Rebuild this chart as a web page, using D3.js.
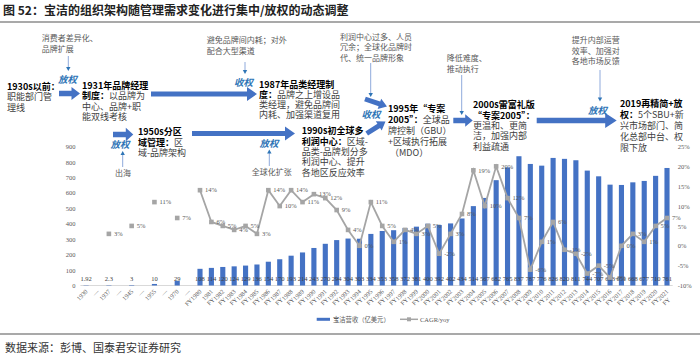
<!DOCTYPE html>
<html><head><meta charset="utf-8">
<script src="https://cdn.jsdelivr.net/npm/d3@7"></script>
<style>body{margin:0;background:#fff}svg{display:block}</style>
</head><body>
<svg id="c" width="700" height="355"></svg>
<script>
// ---------- data ----------
const categories = ["1930","—","1937","—","1945","—","1955","—","1970","—","FY1980",
 "FY 1981","FY 1982","FY 1983","FY 1984","FY 1985","FY 1986","FY 1987","FY 1988","FY 1989","FY 1990",
 "FY 1991","FY 1992","FY 1993","FY 1994","FY 1995","FY 1996","FY 1997","FY 1998","FY 1999","FY 2000",
 "FY 2001","FY 2002","FY 2003","FY 2004","FY 2005","FY 2006","FY 2007","FY 2008","FY 2009","FY 2010",
 "FY 2011","FY 2012","FY 2013","FY 2014","FY 2015","FY 2016","FY 2017","FY 2018","FY 2019","FY 2020","FY 2021"];
const revenue = [1.92,null,2.3,null,3,null,10,null,29,null,
 108,114,120,124,129,136,154,170,193,214,243,270,294,304,303,334,353,358,372,381,400,392,402,434,
 514,567,682,765,837,787,776,826,820,811,744,707,653,651,668,677,710,761];
const growth = [null,null,3,null,5,null,11,null,7,null,
 14,6,5,4,5,3,14,10,14,11,13,12,9,4,0,11,5,1,4,3,5,-2,3,8,
 19,10,20,12,7,-6,1,6,-1,-2,-7,-5,-8,0,3,1,5,7];
const leftTicks = [0,100,200,300,400,500,600,700,800,900];
const rightTicks = [-10,-5,0,5,10,15,20,25];
const seriesNames = ["宝洁营收（亿美元）","CAGR/yoy"];

// ---------- styles ----------
const BLUE = "#4472C4", GRAY = "#A5A5A5", LBLUE = "#2E75B6", THIN = "#8FAADC";
const CJK = "'Noto Sans CJK SC', sans-serif";
const NUM = "'Liberation Serif', serif";

const svg = d3.select("#c");
svg.append("rect").attr("width",700).attr("height",355).attr("fill","#fff");

// title
svg.append("text").attr("x",3).attr("y",14.5).attr("font-family",CJK).attr("font-weight","bold")
  .attr("font-size",12).attr("fill","#222").text("图 52：宝洁的组织架构随管理需求变化进行集中/放权的动态调整");
svg.append("line").attr("x1",0).attr("x2",700).attr("y1",22).attr("y2",22).attr("stroke","#8c8c8c").attr("stroke-width",1.5);
svg.append("line").attr("x1",0).attr("x2",700).attr("y1",334).attr("y2",334).attr("stroke","#8c8c8c").attr("stroke-width",1.5);
svg.append("text").attr("x",5).attr("y",352).attr("font-family",CJK).attr("font-size",11)
  .attr("fill","#333").text("数据来源：彭博、国泰君安证券研究");

// ---------- scales ----------
const x = d3.scaleBand().domain(d3.range(categories.length)).range([80.4,672.7])
  .paddingInner(0.55).paddingOuter(0.275);
const yL = d3.scaleLinear().domain([0,900]).range([285.5,146.5]);
const yR = d3.scaleLinear().domain([-10,25]).range([285.5,146.5]);
const cx = i => x(i) + x.bandwidth()/2;

// axes
const axL = svg.append("g").attr("transform","translate(80.4,0)")
  .call(d3.axisLeft(yL).tickValues(leftTicks).tickSize(0).tickPadding(5));
const axR = svg.append("g").attr("transform","translate(672.7,0)")
  .call(d3.axisRight(yR).tickValues(rightTicks).tickSize(0).tickPadding(5).tickFormat(d=>d+"%"));
[axL,axR].forEach(a=>{a.select(".domain").remove();
  a.selectAll("text").attr("font-family",NUM).attr("font-size",6.5).attr("fill","#595959");});
svg.append("line").attr("x1",80.4).attr("x2",672.7).attr("y1",yL(0)).attr("y2",yL(0))
  .attr("stroke","#D9D9D9").attr("stroke-width",1);

// bars
const bd = revenue.map((v,i)=>({v,i})).filter(d=>d.v!=null);
svg.append("g").selectAll("rect").data(bd).join("rect")
  .attr("x",d=>x(d.i)).attr("width",x.bandwidth())
  .attr("y",d=>yL(d.v)).attr("height",d=>yL(0)-yL(d.v)).attr("fill",BLUE);
svg.append("g").selectAll("text").data(bd).join("text")
  .attr("x",d=>cx(d.i)).attr("y",280.5).attr("text-anchor","middle")
  .attr("font-family",NUM).attr("font-size",6.5).attr("fill","#404040").text(d=>d.v);

// line
const line = d3.line().defined(d=>d!=null).x((d,i)=>cx(i)).y(d=>yR(d));
svg.append("path").datum(growth).attr("d",line).attr("fill","none")
  .attr("stroke",GRAY).attr("stroke-width",1.8);
const gd = growth.map((v,i)=>({v,i})).filter(d=>d.v!=null);
svg.append("g").selectAll("rect").data(gd).join("rect")
  .attr("x",d=>cx(d.i)-2.3).attr("y",d=>yR(d.v)-2.3).attr("width",4.6).attr("height",4.6).attr("fill",GRAY);
svg.append("g").selectAll("text").data(gd).join("text")
  .attr("x",d=>cx(d.i)+5).attr("y",d=>yR(d.v)+2.3)
  .attr("font-family",NUM).attr("font-size",6.5).attr("fill","#595959").text(d=>d.v+"%");

// x labels
const xl = svg.append("g");
categories.forEach((c,i)=>{
  const g = xl.append("g").attr("transform",`translate(${cx(i)+2},292) rotate(-45)`);
  const t = g.append("text").attr("font-family",NUM).attr("font-size",6.3).attr("fill","#595959");
  if (c.startsWith("FY ")) {
    const s1 = t.append("tspan").attr("x",0).attr("y",0).attr("text-anchor","end").text(c.slice(3));
    const w = s1.node().getComputedTextLength();
    t.append("tspan").attr("x",-w).attr("y",7).attr("text-anchor","start").text("FY");
  } else {
    t.attr("text-anchor","end").text(c);
  }
});

// legend
const lg = svg.append("g");
lg.append("line").attr("x1",316.7).attr("x2",330).attr("y1",319.3).attr("y2",319.3).attr("stroke",BLUE).attr("stroke-width",3);
lg.append("text").attr("x",333).attr("y",321.5).attr("font-family",CJK).attr("font-size",6.3).attr("fill","#595959").text(seriesNames[0]);
lg.append("line").attr("x1",400).attr("x2",418).attr("y1",319.3).attr("y2",319.3).attr("stroke",GRAY).attr("stroke-width",1.5);
lg.append("rect").attr("x",407).attr("y",317.3).attr("width",4).attr("height",4).attr("fill",GRAY);
lg.append("text").attr("x",420).attr("y",321.5).attr("font-family",NUM).attr("font-size",6.5).attr("fill","#595959").text(seriesNames[1]);

// ---------- annotation diagram ----------
const ann = svg.append("g");
function block(xp, yp, lh, lines, fs, regColor) {
  const t = ann.append("text").attr("font-family",CJK).attr("font-size",fs);
  lines.forEach((ln,k)=>{
    const row = t.append("tspan").attr("x",xp).attr("y",yp+k*lh+fs*0.36);
    const segs = typeof ln === "string" ? [[ln,false]] : ln;
    segs.forEach(([s,b])=>row.append("tspan").text(s).attr("font-weight",b?"bold":"normal")
      .attr("fill",b?"#000":regColor));
  });
}
function blockArrow(x1,y1,x2,y2,bw,hw,hl){
  const dx=x2-x1, dy=y2-y1, L=Math.hypot(dx,dy), ux=dx/L, uy=dy/L, nx=-uy, ny=ux;
  const bx=x2-ux*hl, by=y2-uy*hl;
  const pts=[[x1+nx*bw/2,y1+ny*bw/2],[bx+nx*bw/2,by+ny*bw/2],[bx+nx*hw/2,by+ny*hw/2],[x2,y2],
    [bx-nx*hw/2,by-ny*hw/2],[bx-nx*bw/2,by-ny*bw/2],[x1-nx*bw/2,y1-ny*bw/2]];
  ann.append("polygon").attr("points",pts.map(p=>p.join(",")).join(" ")).attr("fill",BLUE);
}
function thin(x1,y1,x2,y2){
  const dir = y2>y1?1:-1;
  ann.append("line").attr("x1",x1).attr("y1",y1).attr("x2",x2).attr("y2",y2-dir*3).attr("stroke",THIN).attr("stroke-width",1);
  ann.append("polygon").attr("points",`${x2-2.2},${y2-dir*4} ${x2+2.2},${y2-dir*4} ${x2},${y2}`).attr("fill",LBLUE);
}
function power(xc,yc,s){
  ann.append("text").attr("x",xc).attr("y",yc+3.4).attr("text-anchor","middle")
    .attr("font-family",CJK).attr("font-size",9.5).attr("font-weight","bold").attr("font-style","italic")
    .attr("fill",LBLUE).text(s);
}

// cause texts
const CG = "#595959";
block(41.7,38.5,10.7,["消费者差异化、","品牌扩展"],8,CG);
block(115,173.3,10,["出海"],8,CG);
block(206.7,40,11,["避免品牌间内耗；对外","配合大型渠道"],8,CG);
block(251.7,171.7,10,["全球化扩张"],8,CG);
block(340,36.7,10.5,["利润中心过多、人员","冗余；全球化品牌时","代、统一品牌形象"],8,CG);
block(446.7,58.3,10.7,["降低难度、","推动执行"],8,CG);
block(571.7,40,10.8,["提升内部运营","效率、加强对","各地市场反馈"],8,CG);

// main stage texts
const MG = "#404040";
block(7,87,10.2,[[["1930s以前：",true]],"职能部门管","理线"],9,MG);
block(82,86,10.2,[[["1931年品牌经理",true]],[["制度：",true],["以品牌为",false]],"中心、品牌+职","能双线考核"],9,MG);
block(138,131.7,10.7,[[["1950s分区",true]],[["域管理：",true],["区",false]],"域-品牌架构"],9,MG);
block(259,84.3,10.2,[[["1987年品类经理制",true]],[["度：",true],["品牌之上增设品",false]],"类经理，避免品牌间","内耗、加强渠道复用"],9,MG);
block(301.7,131,10.4,[[["1990s初全球多",true]],[["利润中心：",true],["区域-",false]],"品类-品牌划分多","利润中心、提升","各地区反应效率"],9,MG);
block(388,108.3,11,[[["1995年“专案",true]],[["2005”：",true],["全球品",false]],"牌控制（GBU）","+区域执行拓展"," （MDO）"],9,MG);
block(473,105,10.4,[[["2000s雷富礼版",true]],[["“专案2005”：",true]],"更温和、更简","洁，加强内部","利益疏通"],9,MG);
block(620,103.3,11,[[["2019再精简+放",true]],[["权：",true],["5个SBU+新",false]],"兴市场部门、简","化总部中台、权","限下放"],9,MG);

// block arrows
blockArrow(59,93.5,80,93.5,5.5,13,8.5);
blockArrow(151,94,257,94,5.2,14,10);
blockArrow(113,134.5,133.3,134.5,5.5,13.5,7.5);
blockArrow(192,133.5,295,133.5,5.2,14,10);
blockArrow(365,99,387,106.5,5,11,8);
blockArrow(366.7,133.5,385.5,121.5,5,11,8);
blockArrow(453.3,120.5,472.7,120.5,5.5,12.7,7.5);
blockArrow(536.7,120.5,616.7,120.5,5.5,15,11.5);

// thin arrows
thin(68.3,56,68.3,71);
thin(122.7,167,122.7,151);
thin(245,62,245,74);
thin(269.3,166,269.3,149.5);
thin(370.7,63,370.7,97);
thin(461.7,75,461.7,115);
thin(600,70,600,101.5);

// power labels
power(67.5,80,"放权");
power(120,145,"放权");
power(243.5,82.3,"收权");
power(269,143.3,"放权");
power(371,115,"收权");
power(597.5,111,"放权");
</script>
</body></html>
